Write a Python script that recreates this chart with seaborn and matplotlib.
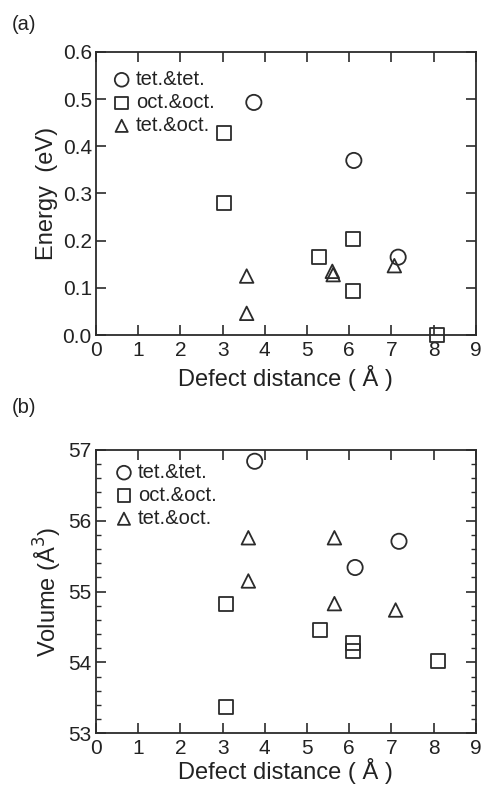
import matplotlib
matplotlib.use("Agg")
import matplotlib.pyplot as plt
from matplotlib.ticker import MultipleLocator
import pandas as pd
import seaborn as sns

# (a) defect-pair energy
tt_dist = [3.74, 6.11, 7.16]
tt_energy = [0.493, 0.370, 0.165]
oo_dist = [3.04, 3.04, 5.28, 6.10, 6.08, 8.09]
oo_energy = [0.429, 0.280, 0.166, 0.204, 0.093, 0.000]
to_dist = [3.57, 3.57, 5.60, 5.62, 7.07]
to_energy = [0.125, 0.046, 0.135, 0.128, 0.147]

# (b) volume
tt_dist_b = [3.76, 6.14, 7.18]
tt_volume = [56.84, 55.34, 55.71]
oo_dist_b = [3.07, 3.07, 5.31, 6.09, 6.09, 8.10]
oo_volume = [54.82, 53.37, 54.46, 54.28, 54.16, 54.02]
to_dist_b = [3.61, 3.61, 5.65, 5.65, 7.10]
to_volume = [55.76, 55.15, 55.76, 54.83, 54.74]

names = ["tet.&tet.", "oct.&oct.", "tet.&oct."]
marks = {"tet.&tet.": "o", "oct.&oct.": "s", "tet.&oct.": "^"}
sizes = {"tet.&tet.": 120, "oct.&oct.": 100, "tet.&oct.": 95}

sns.set_style("ticks")
plt.rcParams["font.family"] = ["Liberation Sans", "DejaVu Sans"]

dfa = pd.DataFrame({
    "dist": tt_dist + oo_dist + to_dist,
    "val": tt_energy + oo_energy + to_energy,
    "kind": [names[0]] * 3 + [names[1]] * 6 + [names[2]] * 5,
})
dfb = pd.DataFrame({
    "dist": tt_dist_b + oo_dist_b + to_dist_b,
    "val": tt_volume + oo_volume + to_volume,
    "kind": [names[0]] * 3 + [names[1]] * 6 + [names[2]] * 5,
})

fig = plt.figure(figsize=(4.85, 7.87), dpi=100)
ax1 = fig.add_axes([0.198, 0.5743, 0.783, 0.3597])
ax2 = fig.add_axes([0.198, 0.0683, 0.783, 0.3600])

ink = "#2b2b2b"
txt = "#222222"


def draw(ax, df, anchor, xpad):
    for k in names:
        sub = df[df.kind == k]
        sns.scatterplot(data=sub, x="dist", y="val", marker=marks[k], s=sizes[k],
                        facecolor="none", edgecolor=ink, linewidth=1.3,
                        label=k, ax=ax, legend=False, clip_on=False, zorder=3)
    ax.set_xlim(0, 9)
    ax.xaxis.set_major_locator(MultipleLocator(1))
    for s in ax.spines.values():
        s.set_visible(True)
        s.set_linewidth(1.3)
        s.set_color(ink)
    ax.tick_params(which="both", direction="in", top=True, right=True,
                   color=ink, labelsize=15, labelcolor=txt)
    ax.tick_params(which="major", length=7, width=1.2)
    ax.tick_params(which="minor", length=3.6, width=1.0)
    ax.tick_params(axis="x", pad=4)
    ax.tick_params(axis="y", pad=3)
    ax.set_xlabel("Defect distance ( Å )", fontsize=17, labelpad=xpad, color=txt)
    leg = ax.legend(loc="upper left", bbox_to_anchor=anchor, frameon=False,
                    fontsize=14.5, markerscale=0.9, handletextpad=0.2,
                    labelspacing=0.2, borderaxespad=0, borderpad=0,
                    handlelength=1.0)
    for t in leg.get_texts():
        t.set_color(txt)


draw(ax1, dfa, (0.041, 0.936), 4)
ax1.set_ylim(0, 0.6)
ax1.yaxis.set_major_locator(MultipleLocator(0.1))
ax1.yaxis.set_major_formatter(matplotlib.ticker.FormatStrFormatter("%.1f"))
ax1.set_ylabel("Energy  (eV)", fontsize=17, labelpad=3, color=txt)

draw(ax2, dfb, (0.047, 0.954), 0.5)
ax2.set_ylim(53, 57)
ax2.yaxis.set_major_locator(MultipleLocator(1))
ax2.yaxis.set_minor_locator(MultipleLocator(0.2))
ax2.set_ylabel("Volume (Å$^3$)", fontsize=17, labelpad=3, color=txt)

fig.text(0.025, 0.9695, "(a)", fontsize=14.5, color=txt, va="center")
fig.text(0.025, 0.4816, "(b)", fontsize=14.5, color=txt, va="center")

fig.savefig("out.png", dpi=100)
